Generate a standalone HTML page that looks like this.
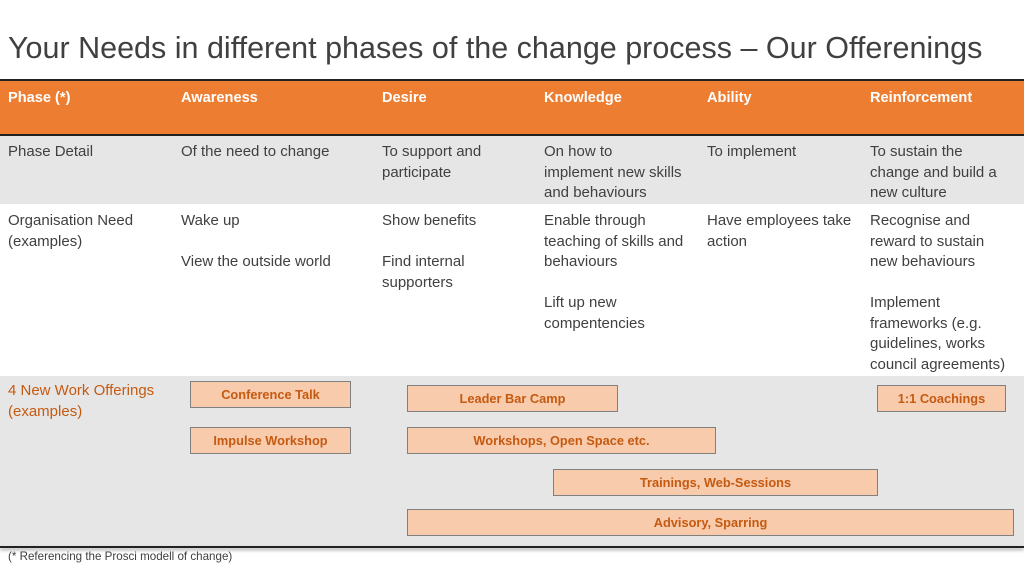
<!DOCTYPE html>
<html><head><style>
body{margin:0;width:1024px;height:576px;background:#fff;position:relative;overflow:hidden;font-family:"Liberation Sans",sans-serif;}
.a{position:absolute;}
.t{font-size:15px;line-height:20.5px;color:#404040;white-space:nowrap;}
.h{font-size:14.6px;font-weight:bold;color:#fff;}
.b{position:absolute;background:#f8cbad;border:1px solid #808080;box-sizing:border-box;color:#c55a11;font-weight:bold;font-size:12.8px;text-align:center;display:flex;align-items:center;justify-content:center;}
</style></head><body>
<div class="a" style="left:8px;top:31px;font-size:30.5px;color:#404040;white-space:nowrap">Your Needs in different phases of the change process – Our Offerenings</div>
<div class="a" style="left:0;top:79px;width:1024px;height:2px;background:#222"></div>
<div class="a" style="left:0;top:81px;width:1024px;height:54px;background:#ed7d31"></div>
<div class="a" style="left:0;top:134px;width:1024px;height:2px;background:#222"></div>
<div class="a" style="left:0;top:136px;width:1024px;height:68px;background:#e7e6e6"></div>
<div class="a" style="left:0;top:376px;width:1024px;height:170px;background:#e7e6e6"></div>
<div class="a" style="left:0;top:546px;width:1024px;height:2px;background:#222;box-shadow:0 2px 3px #999"></div>

<div class="a h" style="left:8px;top:90px">Phase (*)</div>
<div class="a h" style="left:181px;top:90px">Awareness</div>
<div class="a h" style="left:382px;top:90px">Desire</div>
<div class="a h" style="left:544px;top:90px">Knowledge</div>
<div class="a h" style="left:707px;top:90px">Ability</div>
<div class="a h" style="left:870px;top:90px">Reinforcement</div>

<div class="a t" style="left:8px;top:142px">Phase Detail</div>
<div class="a t" style="left:181px;top:142px">Of the need to change</div>
<div class="a t" style="left:382px;top:142px">To support and<br>participate</div>
<div class="a t" style="left:544px;top:142px">On how to<br>implement new skills<br>and behaviours</div>
<div class="a t" style="left:707px;top:142px">To implement</div>
<div class="a t" style="left:870px;top:142px">To sustain the<br>change and build a<br>new culture</div>

<div class="a t" style="left:8px;top:211px">Organisation Need<br>(examples)</div>
<div class="a t" style="left:181px;top:211px">Wake up<br><br>View the outside world</div>
<div class="a t" style="left:382px;top:211px">Show benefits<br><br>Find internal<br>supporters</div>
<div class="a t" style="left:544px;top:211px">Enable through<br>teaching of skills and<br>behaviours<br><br>Lift up new<br>compentencies</div>
<div class="a t" style="left:707px;top:211px">Have employees take<br>action</div>
<div class="a t" style="left:870px;top:211px">Recognise and<br>reward to sustain<br>new behaviours<br><br>Implement<br>frameworks (e.g.<br>guidelines, works<br>council agreements)</div>

<div class="a t" style="left:8px;top:381px;color:#c55a11">4 New Work Offerings<br>(examples)</div>

<div class="b" style="left:190px;top:381px;width:161px;height:27px">Conference Talk</div>
<div class="b" style="left:190px;top:427px;width:161px;height:27px">Impulse Workshop</div>
<div class="b" style="left:407px;top:385px;width:211px;height:27px">Leader Bar Camp</div>
<div class="b" style="left:407px;top:427px;width:309px;height:27px">Workshops, Open Space etc.</div>
<div class="b" style="left:553px;top:469px;width:325px;height:27px">Trainings, Web-Sessions</div>
<div class="b" style="left:407px;top:509px;width:607px;height:27px">Advisory, Sparring</div>
<div class="b" style="left:877px;top:385px;width:129px;height:27px">1:1 Coachings</div>

<div class="a" style="left:8px;top:550px;font-size:11.6px;color:#404040">(* Referencing the Prosci modell of change)</div>
</body></html>
